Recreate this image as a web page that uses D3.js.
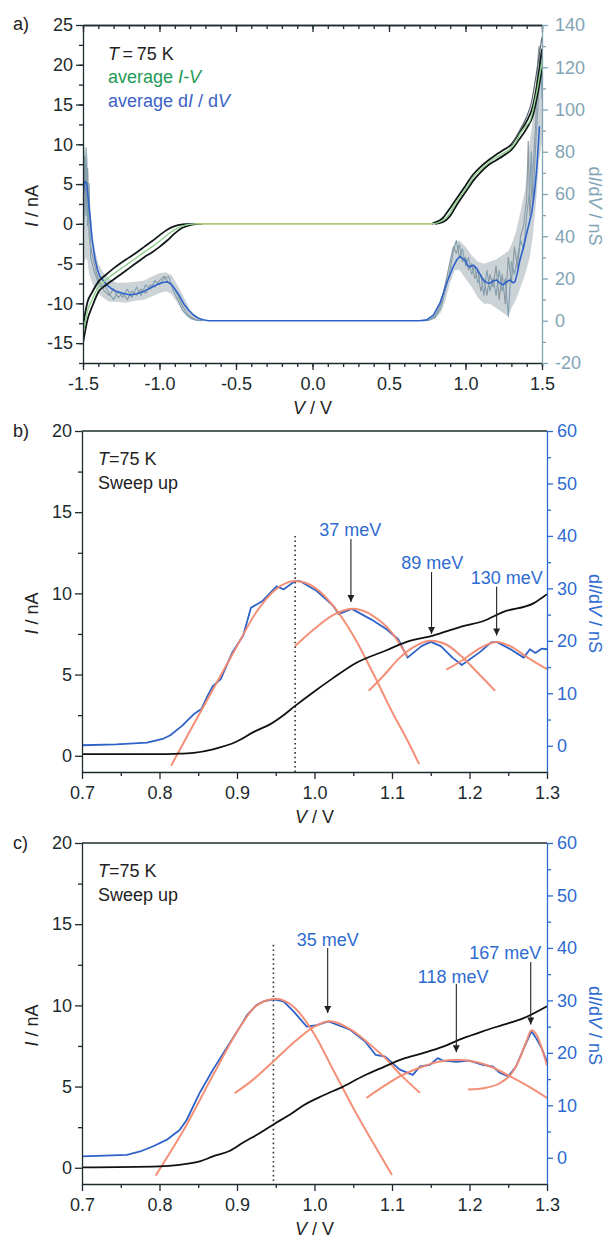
<!DOCTYPE html>
<html>
<head>
<meta charset="utf-8">
<script src="https://cdn.jsdelivr.net/npm/d3@7.9.0/dist/d3.min.js"></script>
<style>
  body { margin: 0; background: #fff; }
  svg { font-family: "Liberation Sans", Arial, sans-serif; }
</style>
</head>
<body>
<svg id="chart" width="606" height="1238"></svg>
<script>
// ---------- panel a : averaged I-V and dI/dV over the full bias range ----------
// I-V average (V, nA)
const ivAvgA = [[-1.5,-14],[-1.47,-10.9],[-1.44,-9.5],[-1.4,-7.95],[-1.35,-7.05],[-1.3,-6.3],[-1.25,-5.6],[-1.2,-4.95],
  [-1.15,-4.25],[-1.1,-3.55],[-1.05,-2.9],[-1.0,-2.2],[-0.95,-1.4],[-0.9,-0.72],[-0.85,-0.28],[-0.8,-0.06],[-0.76,0],
  [0.78,0],[0.822,0.16],[0.85,0.42],[0.877,0.8],[0.9,1.4],[0.931,2.5],[0.96,3.3],[0.986,3.95],[1.02,4.9],[1.051,5.85],
  [1.08,6.5],[1.116,7.1],[1.16,7.8],[1.204,8.4],[1.25,8.9],[1.291,9.4],[1.33,10.3],[1.356,11.3],[1.39,12.2],[1.422,13.0],
  [1.44,14.2],[1.454,15.5],[1.47,17.0],[1.483,18.5],[1.5,20.5]];
// outer single sweeps bounding the black I-V bundle
const ivUpperA = [[-1.5,-12.8],[-1.47,-9.8],[-1.44,-8.6],[-1.4,-7.3],[-1.35,-6.4],[-1.3,-5.6],[-1.25,-4.9],[-1.2,-4.25],
  [-1.15,-3.6],[-1.1,-2.9],[-1.05,-2.2],[-1.0,-1.45],[-0.95,-0.75],[-0.9,-0.3],[-0.85,-0.08],[-0.8,0],[-0.76,0]];
const ivLowerA = [[-1.5,-15],[-1.47,-12],[-1.44,-10.4],[-1.4,-8.6],[-1.35,-7.7],[-1.3,-7.0],[-1.25,-6.3],[-1.2,-5.6],
  [-1.15,-4.9],[-1.1,-4.2],[-1.05,-3.6],[-1.0,-2.9],[-0.95,-2.1],[-0.9,-1.2],[-0.85,-0.5],[-0.8,-0.15],[-0.76,-0.02],[-0.72,0]];
const ivUpperPosA = [[0.78,0],[0.8,0.15],[0.85,0.7],[0.9,2.0],[0.95,3.4],[1.0,4.8],[1.05,6.2],[1.1,7.2],[1.15,8.0],
  [1.2,8.7],[1.25,9.3],[1.3,10.0],[1.35,11.4],[1.4,12.9],[1.44,14.8],[1.47,17.8],[1.5,22]];
const ivLowerPosA = [[0.8,0],[0.85,0.2],[0.9,1.0],[0.95,2.6],[1.0,4.0],[1.05,5.4],[1.1,6.5],[1.15,7.4],[1.2,8.0],
  [1.25,8.6],[1.3,9.3],[1.35,10.6],[1.4,12.0],[1.44,13.6],[1.47,16.2],[1.5,19.5]];
const ivStrayA = [[1.3,9.8],[1.35,11.6],[1.4,13.5],[1.43,15.2],[1.46,18.5],[1.48,21],[1.5,23.5]];

// dI/dV average (V, nS)
const didvAvgA = [[-1.5,58],[-1.49,66],[-1.476,65],[-1.465,57],[-1.454,49.3],[-1.44,38],[-1.42,28.8],[-1.405,24],
  [-1.389,20.9],[-1.345,17],[-1.31,15],[-1.28,13.8],[-1.24,13],[-1.193,12.2],[-1.15,12.8],[-1.106,13.8],[-1.06,15.5],
  [-1.018,17],[-0.985,18],[-0.953,18.5],[-0.93,17.8],[-0.91,16.1],[-0.875,12.5],[-0.844,8.3],[-0.81,5],[-0.779,2.7],
  [-0.745,1.2],[-0.714,0.5],[-0.68,0],[0.7,0],[0.746,0.4],[0.79,2.7],[0.833,8.3],[0.877,17.8],[0.9,22],[0.92,25.6],
  [0.945,29],[0.964,30.4],[0.98,29.5],[0.997,28.8],[1.015,26],[1.029,25.6],[1.05,26.3],[1.073,24.8],[1.095,22],
  [1.116,19.3],[1.14,18],[1.16,17.8],[1.18,18.8],[1.204,19.3],[1.225,17.8],[1.247,17],[1.27,18.5],[1.291,19.3],
  [1.31,18],[1.324,18.5],[1.34,23],[1.356,28.8],[1.38,35],[1.4,41.4],[1.432,50.9],[1.45,60],[1.465,71.4],[1.475,82],[1.483,92.1]];
// spread of the single dI/dV curves (V, low, high)
const didvSpreadNegA = [[-1.5,20,72],[-1.49,28,84],[-1.48,30,70],[-1.47,28,80],[-1.46,22,60],[-1.44,18,42],[-1.42,15,33],
  [-1.4,13,27],[-1.37,11,23],[-1.33,9,20],[-1.28,9,18],[-1.22,8.5,18],[-1.16,9.5,18.5],[-1.1,10,19],[-1.05,11.5,21],
  [-1.0,13,22.5],[-0.96,14,23],[-0.92,12.5,21.5],[-0.88,8,16.5],[-0.84,3.5,11],[-0.8,0.8,5.5],[-0.76,0,2],[-0.72,0,0.6],[-0.69,0,0]];
const didvSpreadPosA = [[0.72,0,0],[0.76,0,0.8],[0.8,0.8,3.5],[0.84,4,10],[0.87,10,19],[0.9,18,30],[0.93,24,37],
  [0.96,24,38],[1.0,20,35],[1.04,16,31],[1.08,11,28],[1.12,8,27],[1.16,8,28],[1.2,6,29],[1.24,4,31],[1.28,2,33],
  [1.3,6,36],[1.33,10,42],[1.36,16,52],[1.39,22,62],[1.42,30,85],[1.44,40,95],[1.46,55,112],[1.48,75,130],[1.5,85,125]];
// a few of the single dI/dV sweeps
const didvSweepsA = [
  [[-1.5,45],[-1.49,78],[-1.48,50],[-1.47,72],[-1.46,40],[-1.45,35],[-1.43,28],[-1.41,22],[-1.39,18],[-1.36,14],[-1.33,12],
   [-1.3,15],[-1.27,11],[-1.24,13],[-1.21,10],[-1.18,14],[-1.15,12],[-1.12,15],[-1.09,13],[-1.06,17],[-1.03,16],[-1.0,19],
   [-0.97,21],[-0.94,18],[-0.91,16],[-0.88,12],[-0.85,7],[-0.82,3.5],[-0.79,1.5],[-0.76,0.4],[-0.72,0]],
  [[-1.5,35],[-1.49,55],[-1.48,82],[-1.47,45],[-1.46,65],[-1.45,30],[-1.43,24],[-1.41,20],[-1.39,16],[-1.36,17],[-1.33,13],
   [-1.3,10],[-1.27,14],[-1.24,11],[-1.21,15],[-1.18,11],[-1.15,16],[-1.12,12],[-1.09,17],[-1.06,15],[-1.03,19],[-1.0,17],
   [-0.97,20],[-0.94,21],[-0.91,14],[-0.88,10],[-0.85,5],[-0.82,2.5],[-0.79,1],[-0.76,0.2],[-0.72,0]],
  [[0.72,0],[0.76,0.3],[0.8,2],[0.84,8],[0.87,18],[0.9,28],[0.92,35],[0.94,32],[0.96,36],[0.98,28],[1.0,30],[1.02,24],
   [1.04,27],[1.06,20],[1.08,24],[1.1,14],[1.12,20],[1.14,12],[1.16,22],[1.18,16],[1.2,26],[1.22,10],[1.24,22],[1.26,8],
   [1.28,30],[1.3,18],[1.32,35],[1.34,25],[1.36,40],[1.38,45],[1.4,58],[1.41,85],[1.42,50],[1.44,70],[1.46,95],[1.47,120],
   [1.48,130],[1.49,115],[1.5,122]],
  [[0.72,0],[0.76,0.2],[0.8,1.5],[0.84,6],[0.87,15],[0.9,24],[0.92,33],[0.94,38],[0.96,30],[0.98,34],[1.0,26],[1.02,30],
   [1.04,22],[1.06,26],[1.08,18],[1.1,22],[1.12,12],[1.14,24],[1.16,14],[1.18,20],[1.2,12],[1.22,24],[1.24,14],[1.26,20],
   [1.28,2],[1.3,28],[1.32,22],[1.34,30],[1.36,38],[1.38,34],[1.4,50],[1.42,62],[1.43,80],[1.44,55],[1.46,85],[1.48,110],
   [1.49,125],[1.5,105]]
];

// ---------- panel b : sweep up, 0.7-1.3 V ----------
const ivB = [[0.7,0.1],[0.75,0.1],[0.8,0.1],[0.82,0.12],[0.844,0.18],[0.869,0.4],[0.899,0.86],[0.923,1.5],[0.943,1.95],
  [0.96,2.5],[0.975,3.07],[0.998,3.9],[1.023,4.75],[1.053,5.7],[1.093,6.5],[1.118,7.0],[1.153,7.4],[1.193,8.0],
  [1.218,8.3],[1.243,8.85],[1.283,9.4],[1.3,9.95]];
const didvB = [[0.7,0.1],[0.744,0.25],[0.784,0.6],[0.804,1.3],[0.814,2],[0.829,3.8],[0.844,6],[0.854,7],[0.862,9.5],
  [0.869,11.4],[0.879,12.7],[0.894,17.8],[0.908,21],[0.918,26.3],[0.933,27.6],[0.951,30.4],[0.96,29.8],[0.975,31.4],
  [0.981,31.4],[1.003,29.5],[1.024,26.7],[1.031,25.1],[1.048,26.1],[1.073,24.1],[1.093,22.2],[1.108,20.3],[1.12,16.8],
  [1.138,19],[1.15,19.8],[1.163,19],[1.178,16.8],[1.19,15.4],[1.213,17.8],[1.228,19.7],[1.235,19.8],[1.253,18.4],
  [1.27,16.8],[1.278,18.4],[1.285,17.7],[1.293,18.5],[1.3,18.4]];
const fitsB = [
  [[0.815,-3.8],[0.84,3],[0.87,11],[0.9,19],[0.925,25.5],[0.95,29.8],[0.975,31.4],[1.0,30.2],[1.025,26.5],[1.05,21],
   [1.075,14],[1.1,6.5],[1.12,1],[1.135,-3.5]],
  [[0.975,19],[1.0,22.3],[1.025,25],[1.05,26.1],[1.075,24.8],[1.1,21.5],[1.12,17]],
  [[1.07,10.5],[1.09,13.5],[1.11,16.8],[1.13,19],[1.15,20],[1.17,19.3],[1.19,17],[1.21,14],[1.233,10.5]],
  [[1.17,14.5],[1.19,16.2],[1.21,18.3],[1.235,19.8],[1.255,18.8],[1.275,16.8],[1.3,14.6]]
];
// annotations: label, label V, label nS, arrow V, arrow from nS, arrow tip nS
const peaksB = [
  {label: "37 meV", lv: 1.046, ly: 41.1, av: 1.047, from: 39.4, to: 27.4},
  {label: "89 meV", lv: 1.152, ly: 34.9, av: 1.151, from: 33.1, to: 21.3},
  {label: "130 meV", lv: 1.248, ly: 32.0, av: 1.235, from: 30.3, to: 21.0}
];
const markerB = 0.975;

// ---------- panel c : sweep up, 0.7-1.3 V ----------
const ivC = [[0.7,0.02],[0.8,0.08],[0.826,0.18],[0.852,0.39],[0.869,0.7],[0.891,1.05],[0.908,1.55],[0.93,2.15],[0.948,2.7],
  [0.969,3.3],[0.986,3.85],[1.011,4.45],[1.037,5.0],[1.063,5.65],[1.089,6.2],[1.114,6.7],[1.14,7.06],[1.166,7.46],
  [1.192,7.98],[1.217,8.4],[1.243,8.8],[1.269,9.2],[1.3,9.95]];
const didvC = [[0.7,0.25],[0.758,0.57],[0.775,1.2],[0.792,2.2],[0.809,3.4],[0.826,5.3],[0.835,7.2],[0.852,12.4],
  [0.869,16.8],[0.887,21],[0.904,25],[0.913,27.2],[0.925,29.1],[0.934,29.8],[0.947,30.2],[0.96,29.8],[0.973,27.9],
  [0.99,25],[1.003,25.3],[1.018,26],[1.046,24.4],[1.065,22.2],[1.079,19.6],[1.091,19.3],[1.101,18],[1.11,16.8],
  [1.127,15.8],[1.136,17.4],[1.149,17.7],[1.159,19],[1.166,18.5],[1.183,18.3],[1.2,18.5],[1.217,17.7],[1.23,17.4],
  [1.239,16.2],[1.25,15.5],[1.26,17.4],[1.271,21.2],[1.28,24.1],[1.286,22.8],[1.293,20.9],[1.3,18.3]];
const fitsC = [
  [[0.795,-3.4],[0.83,5],[0.87,16],[0.9,24],[0.925,29],[0.95,30.3],[0.975,28.5],[1.0,23.5],[1.025,16.5],[1.05,9.5],
   [1.075,3],[1.1,-3.3]],
  [[0.897,12.3],[0.92,14.8],[0.95,18.8],[0.975,22.2],[1.0,25],[1.02,26],[1.045,24.6],[1.07,21.8],[1.09,19.2],[1.11,16],[1.136,12.4]],
  [[1.067,11.4],[1.09,13.7],[1.11,15.5],[1.14,17.4],[1.16,18.3],[1.185,18.7],[1.21,18.2],[1.23,17.2],[1.25,15.7],[1.275,13.7],[1.3,11.4]],
  [[1.198,13.0],[1.22,13.3],[1.24,14.3],[1.255,16.2],[1.265,19],[1.273,22],[1.28,24.3],[1.287,23.3],[1.293,21],[1.3,17.6]]
];
const peaksC = [
  {label: "35 meV", lv: 1.017, ly: 41.5, av: 1.017, from: 40.0, to: 27.6},
  {label: "118 meV", lv: 1.179, ly: 34.5, av: 1.183, from: 33.1, to: 20.1},
  {label: "167 meV", lv: 1.246, ly: 39.0, av: 1.279, from: 37.3, to: 25.4}
];
const markerC = 0.947;

// ticks
const xTicksA = [-1.5, -1, -0.5, 0, 0.5, 1, 1.5];
const yLTicksA = [-15, -10, -5, 0, 5, 10, 15, 20, 25];
const yRTicksA = [-20, 0, 20, 40, 60, 80, 100, 120, 140];
const xTicksBC = [0.7, 0.8, 0.9, 1.0, 1.1, 1.2, 1.3];
const yLTicksBC = [0, 5, 10, 15, 20];
const yRTicksBC = [0, 10, 20, 30, 40, 50, 60];

// ---------- drawing ----------
const svg = d3.select('#chart');
const FS = 18;
const DARK = '#1d2b2e';
const BLUE = '#2f62c9';
const ORANGE = '#f28a70';
const AXBLUE = '#2e6bd0';
const AXGREY = '#83a4b4';
const GREEN = '#1f9a58';
const GREY = '#8b989f';
const f1 = d => d3.format('.1f')(d).replace('\u2212', '-');
const f0 = d => String(d);

const defs = svg.append('defs');
defs.append('marker').attr('id', 'ah')
  .attr('viewBox', '0 0 10 10').attr('refX', 10).attr('refY', 5)
  .attr('markerUnits', 'userSpaceOnUse').attr('markerWidth', 9).attr('markerHeight', 7)
  .attr('orient', 'auto')
  .append('path').attr('d', 'M0,0L10,5L0,10z').attr('fill', '#222');

function richText(g, x, y, parts, opt = {}) {
  const t = g.append('text').attr('x', x).attr('y', y)
    .attr('font-size', opt.size || FS).attr('fill', opt.color || '#222')
    .attr('text-anchor', opt.anchor || 'start');
  if (opt.rotate) t.attr('transform', `rotate(${opt.rotate},${x},${y})`);
  parts.forEach(([s, it]) => t.append('tspan').text(s).attr('font-style', it ? 'italic' : 'normal'));
  return t;
}

function styleAxis(sel, color) {
  sel.attr('font-size', FS).attr('font-family', '"Liberation Sans", Arial, sans-serif');
  sel.select('.domain').attr('stroke', color).attr('stroke-width', 1.3);
  sel.selectAll('.tick line').attr('stroke', color).attr('stroke-width', 1.3);
  sel.selectAll('.tick text').attr('fill', color);
  return sel;
}

function axisSet(g, b, x, yL, yR, o) {
  // minor ticks first
  g.append('g').attr('transform', `translate(0,${b.bottom})`)
    .call(d3.axisBottom(x).tickValues(o.xMinor).tickSize(4).tickFormat(''))
    .call(s => styleAxis(s, DARK)).select('.domain').remove();
  g.append('g').attr('transform', `translate(${b.left},0)`)
    .call(d3.axisLeft(yL).tickValues(o.yLMinor).tickSize(4).tickFormat(''))
    .call(s => styleAxis(s, DARK)).select('.domain').remove();
  g.append('g').attr('transform', `translate(${b.right},0)`)
    .call(d3.axisRight(yR).tickValues(o.yRMinor).tickSize(4).tickFormat(''))
    .call(s => styleAxis(s, o.rColor)).select('.domain').remove();
  if (o.topTicks) {
    g.append('g').attr('transform', `translate(0,${b.top})`)
      .call(d3.axisBottom(x).tickValues(o.xMinor).tickSize(4).tickFormat('').tickSizeOuter(0))
      .call(s => styleAxis(s, DARK));
    g.append('g').attr('transform', `translate(0,${b.top})`)
      .call(d3.axisBottom(x).tickValues(o.xMajor).tickSize(7).tickFormat('').tickSizeOuter(0))
      .call(s => styleAxis(s, DARK));
  } else {
    g.append('line').attr('x1', b.left).attr('x2', b.right).attr('y1', b.top).attr('y2', b.top)
      .attr('stroke', DARK).attr('stroke-width', 1.3);
  }
  g.append('g').attr('transform', `translate(0,${b.bottom})`)
    .call(d3.axisBottom(x).tickValues(o.xMajor).tickSize(7).tickPadding(7).tickSizeOuter(0).tickFormat(f1))
    .call(s => styleAxis(s, DARK));
  g.append('g').attr('transform', `translate(${b.left},0)`)
    .call(d3.axisLeft(yL).tickValues(o.yLMajor).tickSize(7).tickPadding(3).tickSizeOuter(0).tickFormat(f0))
    .call(s => styleAxis(s, DARK));
  g.append('g').attr('transform', `translate(${b.right},0)`)
    .call(d3.axisRight(yR).tickValues(o.yRMajor).tickSize(6).tickPadding(o.rPad).tickSizeOuter(0).tickFormat(f0))
    .call(s => styleAxis(s, o.rColor));

  // axis titles
  richText(g, (b.left + b.right) / 2, b.bottom + 51, [['V', 1], [' / V', 0]], {anchor: 'middle'});
  const cy = (b.top + b.bottom) / 2 + 12;
  richText(g, 38, cy, [['I', 1], [' / nA', 0]], {anchor: 'middle', rotate: -90});
  richText(g, 589, cy, [['d', 0], ['I', 1], ['/d', 0], ['V', 1], [' / nS', 0]],
    {anchor: 'middle', rotate: 90, color: o.rColor});
}

function addLine(g, data, x, y, stroke, width, curve = d3.curveLinear, opacity = 1) {
  g.append('path').datum(data)
    .attr('d', d3.line().x(d => x(d[0])).y(d => y(d[1])).curve(curve))
    .attr('fill', 'none').attr('stroke', stroke).attr('stroke-width', width)
    .attr('stroke-opacity', opacity).attr('stroke-linejoin', 'round');
}

function clipFor(id, b) {
  defs.append('clipPath').attr('id', id).append('rect')
    .attr('x', b.left).attr('y', b.top).attr('width', b.right - b.left).attr('height', b.bottom - b.top);
}

// ----- panel a -----
{
  const b = {left: 83, right: 542, top: 25, bottom: 363};
  const g = svg.append('g');
  clipFor('clipA', b);
  const x = d3.scaleLinear([-1.5, 1.5], [b.left, b.right]);
  const yL = d3.scaleLinear([-17.5, 25], [b.bottom, b.top]);
  const yR = d3.scaleLinear([-20, 140], [b.bottom, b.top]);
  const plot = g.append('g').attr('clip-path', 'url(#clipA)');

  const band = d3.area().x(d => x(d[0])).y0(d => yR(d[1])).y1(d => yR(d[2])).curve(d3.curveLinear);
  [didvSpreadNegA, didvSpreadPosA].forEach(s =>
    plot.append('path').datum(s).attr('d', band).attr('fill', '#aab6bd').attr('fill-opacity', 0.6));
  didvSweepsA.forEach((s, i) => addLine(plot, s, x, yR, i % 2 ? '#7f9fb2' : GREY, 1.1));
  addLine(plot, didvAvgA, x, yR, BLUE, 1.6);

  [ivUpperA, ivLowerA, ivUpperPosA, ivLowerPosA].forEach(s =>
    addLine(plot, s, x, yL, '#101818', 1.8, d3.curveMonotoneX));
  addLine(plot, ivStrayA, x, yL, '#55606a', 1.1, d3.curveMonotoneX);
  addLine(plot, ivAvgA, x, yL, '#8fcf8c', 1.4, d3.curveMonotoneX);
  addLine(plot, ivAvgA.filter(d => Math.abs(d[0]) < 0.8), x, yL, '#b8c86a', 1.2);

  axisSet(g, b, x, yL, yR, {
    xMajor: xTicksA, xMinor: d3.range(-15, 16).map(d => d / 10),
    yLMajor: yLTicksA, yLMinor: d3.range(-7, 10).map(d => d * 2.5),
    yRMajor: yRTicksA, yRMinor: d3.range(-1, 14, 2).map(d => d * 10),
    rColor: AXGREY, rPad: 7, topTicks: true
  });
  richText(g, 13, 30, [['a)', 0]]);
  richText(g, 108, 60, [['T', 1], ['\u2009=\u200975 K', 0]]);
  richText(g, 108, 83, [['average ', 0], ['I-V', 1]], {color: GREEN});
  richText(g, 108, 107, [['average d', 0], ['I', 1], [' / d', 0], ['V', 1]], {color: '#3b62c6'});
}

// ----- panels b and c -----
function sweepPanel(id, letter, b, iv, didv, fits, peaks, marker) {
  const g = svg.append('g');
  clipFor(id, b);
  const x = d3.scaleLinear([0.7, 1.3], [b.left, b.right]);
  const yL = d3.scaleLinear([-1, 20], [b.bottom, b.top]);
  const yR = d3.scaleLinear([-5, 60], [b.bottom, b.top]);
  const plot = g.append('g').attr('clip-path', `url(#${id})`);

  plot.append('line').attr('x1', x(marker)).attr('x2', x(marker))
    .attr('y1', yR(peaks[0].from + 0.6)).attr('y2', b.bottom)
    .attr('stroke', '#333').attr('stroke-width', 1.6).attr('stroke-dasharray', '1.6,3');
  addLine(plot, didv, x, yR, BLUE, 1.8);
  fits.forEach(f => addLine(plot, f, x, yR, ORANGE, 2, d3.curveMonotoneX, 0.95));
  addLine(plot, iv, x, yL, '#111', 1.8, d3.curveMonotoneX);

  peaks.forEach(p => {
    g.append('line').attr('x1', x(p.av)).attr('x2', x(p.av))
      .attr('y1', yR(p.from)).attr('y2', yR(p.to))
      .attr('stroke', '#222').attr('stroke-width', 1.1).attr('marker-end', 'url(#ah)');
    g.append('text').attr('x', x(p.lv)).attr('y', yR(p.ly)).attr('dy', '0.35em')
      .attr('text-anchor', 'middle').attr('font-size', FS).attr('fill', AXBLUE).text(p.label);
  });

  axisSet(g, b, x, yL, yR, {
    xMajor: xTicksBC, xMinor: [0.75, 0.85, 0.95, 1.05, 1.15, 1.25],
    yLMajor: yLTicksBC, yLMinor: [2.5, 7.5, 12.5, 17.5],
    yRMajor: yRTicksBC, yRMinor: [5, 15, 25, 35, 45, 55],
    rColor: AXBLUE, rPad: 4, topTicks: false
  });
  richText(g, 13, b.top + 6, [[letter, 0]]);
  richText(g, 98, b.top + 34, [['T', 1], ['=75 K', 0]]);
  richText(g, 98, b.top + 58, [['Sweep up', 0]]);
}

sweepPanel('clipB', 'b)', {left: 82, right: 547, top: 431, bottom: 772}, ivB, didvB, fitsB, peaksB, markerB);
sweepPanel('clipC', 'c)', {left: 82, right: 547, top: 843, bottom: 1184}, ivC, didvC, fitsC, peaksC, markerC);
</script>
</body>
</html>
